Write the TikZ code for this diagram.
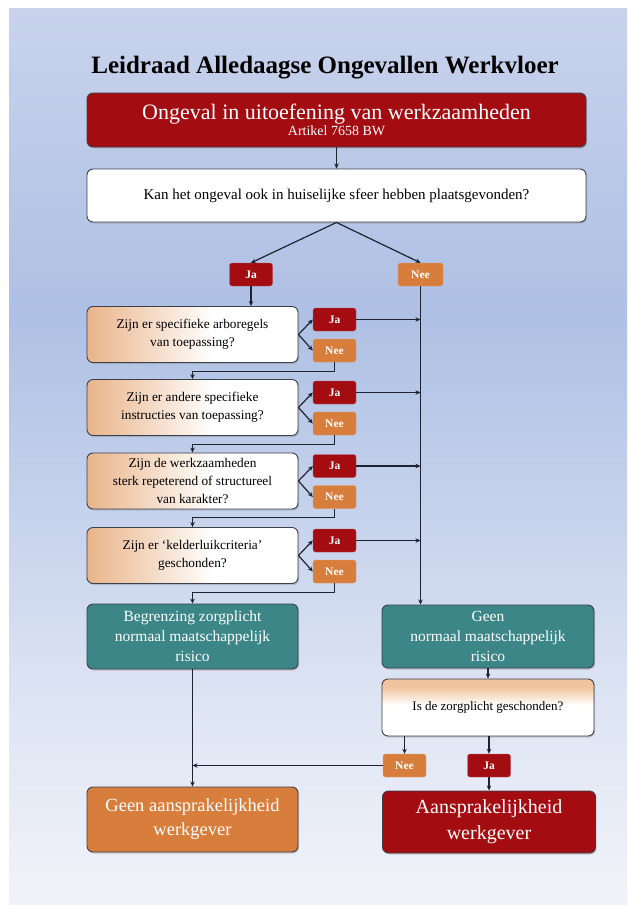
\documentclass[tikz,border=0pt]{standalone}
\usepackage{fontspec}
\setmainfont{Liberation Serif}
\usetikzlibrary{shadows,arrows.meta}

\definecolor{darkred}{RGB}{163,12,16}
\definecolor{orangec}{RGB}{215,126,60}
\definecolor{tealc}{RGB}{60,134,136}
\definecolor{tanc}{RGB}{233,180,138}
\definecolor{tanlight}{RGB}{240,196,158}
\definecolor{edgec}{RGB}{60,64,75}
\definecolor{linec}{RGB}{30,35,50}
\definecolor{bgtop}{RGB}{201,211,236}
\definecolor{bgmid}{RGB}{174,192,228}
\definecolor{bglow}{RGB}{222,229,244}
\definecolor{bgbot}{RGB}{242,243,249}

\pgfdeclareverticalshading{panelshade}{100bp}{color(0bp)=(bgbot); color(25bp)=(bgbot); color(36bp)=(bglow); color(58bp)=(bgmid); color(75bp)=(bgtop); color(100bp)=(bgtop)}
\pgfdeclarehorizontalshading{qshade}{100bp}{color(0bp)=(tanc); color(25bp)=(tanc); color(55bp)=(white); color(100bp)=(white)}
\pgfdeclareverticalshading{isshade}{100bp}{color(0bp)=(white); color(52bp)=(white); color(68bp)=(tanlight); color(100bp)=(tanlight)}

\begin{document}
\begin{tikzpicture}[x=1pt,y=-1pt,
  box/.style={rounded corners=6pt, draw=edgec, line width=0.9pt, align=center, inner sep=0pt,
    drop shadow={shadow xshift=1.2pt, shadow yshift=-1.5pt, opacity=0.35}},
  redbox/.style={box, fill=darkred, text=white},
  tealbox/.style={box, fill=tealc, text=white},
  orangebox/.style={box, fill=orangec, text=white},
  qbox/.style={box, shade, shading=qshade, minimum width=211pt, minimum height=56pt,
    font=\fontsize{13.3}{18}\selectfont},
  jabox/.style={rounded corners=2.5pt, draw=darkred!70!white, fill=darkred, text=white,
    font=\bfseries\fontsize{11.5}{12}\selectfont, minimum width=43pt, minimum height=23pt, inner sep=0pt},
  neebox/.style={jabox, draw=orangec!80!white, fill=orangec},
  conn/.style={draw=linec, line width=1.2pt, -{Stealth[length=5pt,width=4.5pt]}}]

\fill[white] (0,0) rectangle (627,905);
\shade[shading=panelshade] (9,8) rectangle (627,905);
\useasboundingbox (0,0) rectangle (627,905);

\node[font=\bfseries\fontsize{25}{30}\selectfont, anchor=base] (title) at (325,73) {Leidraad Alledaagse Ongevallen Werkvloer};

\node[redbox, minimum width=499pt, minimum height=54pt] (start) at (336.5,120)
  {\fontsize{22}{24}\selectfont Ongeval in uitoefening van werkzaamheden\\\fontsize{14}{16}\selectfont Artikel 7658 BW};
\node[box, fill=white, minimum width=499pt, minimum height=53pt, font=\fontsize{15}{18}\selectfont] (home) at (336.5,195.5)
  {Kan het ongeval ook in huiselijke sfeer hebben plaatsgevonden?};

\node[jabox] (ja0) at (251,274.5) {Ja};
\node[neebox, minimum width=45pt] (nee0) at (420.5,274.5) {Nee};

\foreach \i/\y/\txt in {1/334.5/{Zijn er specifieke arboregels\\van toepassing?},
    2/407.5/{Zijn er andere specifieke\\instructies van toepassing?},
    3/481/{Zijn de werkzaamheden\\sterk repeterend of structureel\\van karakter?},
    4/555.5/{Zijn er ‘kelderluikcriteria’\\geschonden?}}{
  \node[qbox] (q\i) at (192.5,\y) {\txt};
  \node[jabox] (ja\i) at (334.5,\y-15) {Ja};
  \node[neebox] (nee\i) at (334.5,\y+16) {Nee};
}

\node[tealbox, minimum width=211pt, minimum height=65pt, font=\fontsize{15.5}{20}\selectfont] (limit) at (192.5,636.5)
  {Begrenzing zorgplicht\\normaal maatschappelijk\\risico};
\node[tealbox, minimum width=212pt, minimum height=63pt, font=\fontsize{15.5}{20}\selectfont] (norisk) at (488,636.5)
  {Geen\\normaal maatschappelijk\\risico};
\node[box, shade, shading=isshade, minimum width=212pt, minimum height=57pt, font=\fontsize{13}{16}\selectfont] (breach) at (488,707.5)
  {Is de zorgplicht geschonden?};
\node[neebox] (nee5) at (404.5,765.5) {Nee};
\node[jabox] (ja5) at (489,765.5) {Ja};
\node[orangebox, minimum width=211pt, minimum height=65pt, font=\fontsize{18.5}{24}\selectfont] (noliab) at (192.5,819.5)
  {Geen aansprakelijkheid\\werkgever};
\node[redbox, minimum width=213pt, minimum height=62pt, font=\fontsize{20}{26}\selectfont] (liab) at (489,822)
  {Aansprakelijkheid\\werkgever};

\draw[conn] (start) -- (home);
\draw[conn] (home.south) -- (ja0.north);
\draw[conn] (home.south) -- (nee0.north);
\draw[conn] (ja0.south) -- (ja0.south |- q1.north);
\draw[conn] (nee0.south) -- (nee0.south |- norisk.north);
\foreach \i in {1,...,4}{
  \draw[conn] (q\i.east) -- (ja\i.west);
  \draw[conn] (q\i.east) -- (nee\i.west);
  \draw[conn] (ja\i.east) -- (ja\i.east -| nee0.south);
}
\foreach \i/\next in {1/q2,2/q3,3/q4,4/limit}{
  \draw[conn] (nee\i.south) -- ++(0,9) -| (\next.north);
}
\draw[conn] (norisk) -- (breach);
\draw[conn] (breach.south -| nee5.north) -- (nee5.north);
\draw[conn] (breach.south -| ja5.north) -- (ja5.north);
\draw[conn] (ja5) -- (ja5 |- liab.north);
\draw[conn] (nee5.west) -- (nee5.west -| limit.south);
\draw[conn] (limit) -- (noliab);
\end{tikzpicture}
\end{document}
